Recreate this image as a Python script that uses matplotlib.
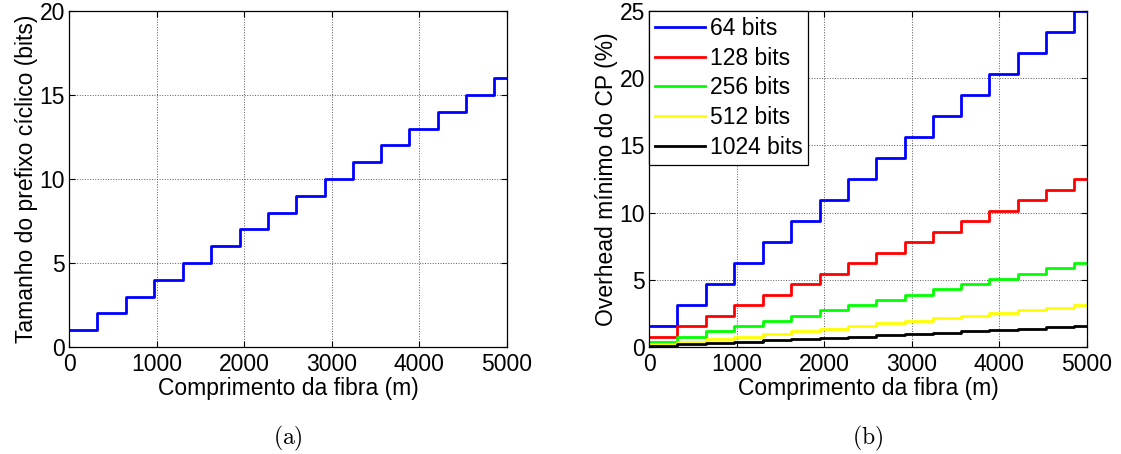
import numpy as np
import matplotlib
matplotlib.use('Agg')
from matplotlib import pyplot as plt

plt.rcParams['font.family'] = ['Liberation Sans', 'DejaVu Sans']
plt.rcParams['mathtext.fontset'] = 'cm'

# fiber length where the CP grows by one bit (m)
step_x = [0, 324, 649, 973, 1298, 1622, 1947, 2271, 2594, 2918, 3240, 3563, 3885, 4210, 4534, 4856, 5000]
cp_bits = [1, 2, 3, 4, 5, 6, 7, 8, 9, 10, 11, 12, 13, 14, 15, 16, 16]

symbol_bits = [64, 128, 256, 512, 1024]
colors = ['#0000ff', '#ff0000', '#00ff00', '#ffff00', '#000000']
labels = ['64 bits', '128 bits', '256 bits', '512 bits', '1024 bits']

fig = plt.figure(figsize=(11.21, 4.54), dpi=100)
W, H = 1121, 454
ax1 = fig.add_axes([69 / W, 1 - 347 / H, (507 - 69) / W, (347 - 11) / H])
ax2 = fig.add_axes([649 / W, 1 - 347 / H, (1087 - 649) / W, (347 - 11) / H])

fs = 16.5

def style(ax, ymax, yticks):
    ax.set_xlim(0, 5000)
    ax.set_ylim(0, ymax)
    ax.set_xticks([0, 1000, 2000, 3000, 4000, 5000])
    ax.set_yticks(yticks)
    ax.grid(True, color='0.35', linestyle=':', linewidth=0.7)
    ax.tick_params(direction='in', labelsize=fs, top=True, right=True, length=4, width=0.8)
    ax.tick_params(axis='x', pad=4)
    ax.tick_params(axis='y', pad=3)
    for s in ax.spines.values():
        s.set_linewidth(0.9)
    ax.set_xlabel('Comprimento da fibra (m)', fontsize=fs, labelpad=1)

ax1.step(step_x, cp_bits, where='post', color='#0000ff', lw=2)
style(ax1, 20, [0, 5, 10, 15, 20])
ax1.set_ylabel('Tamanho do prefixo cíclico (bits)', fontsize=fs, labelpad=1)

for n, c, lab in zip(symbol_bits, colors, labels):
    ov = np.array(cp_bits) / n * 100
    ax2.step(step_x, ov, where='post', color=c, lw=2, label=lab)
style(ax2, 25, [0, 5, 10, 15, 20, 25])
ax2.set_ylabel('Overhead mínimo do CP (%)', fontsize=fs, labelpad=1)
leg = ax2.legend(loc='upper left', fontsize=fs, frameon=True, fancybox=False,
                 borderaxespad=0.0, handlelength=2.2, handletextpad=0.2,
                 labelspacing=0.3, borderpad=0.25, framealpha=1)
leg.get_frame().set_edgecolor('k')
leg.get_frame().set_linewidth(0.9)

fig.text((69 + 507) / 2 / W, 1 - 444 / H, r'$\mathrm{(a)}$', ha='center', va='baseline', fontsize=17)
fig.text((649 + 1087) / 2 / W, 1 - 444 / H, r'$\mathrm{(b)}$', ha='center', va='baseline', fontsize=17)

fig.savefig('out.png', dpi=100)
